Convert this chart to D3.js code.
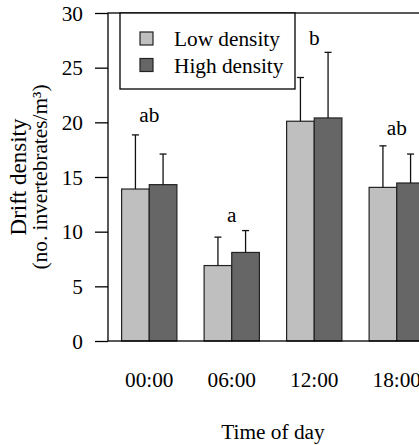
<!DOCTYPE html>
<html>
<head>
<meta charset="utf-8">
<script src="https://cdn.jsdelivr.net/npm/d3@7"></script>
<style>
html,body{margin:0;padding:0;background:#fff;}
svg{display:block;}
text{font-family:"Liberation Serif","Times New Roman",serif;fill:#000;}
</style>
</head>
<body>
<svg id="chart" width="419" height="445"></svg>
<script>
const times = ["00:00", "06:00", "12:00", "18:00"];
const seriesNames = ["Low density", "High density"];
const lowMean = [13.9, 6.9, 20.1, 14.05];
const highMean = [14.3, 8.1, 20.4, 14.45];
const lowErr = [4.95, 2.6, 4.0, 3.8];
const highErr = [2.8, 2.0, 6.0, 2.65];
const letters = ["ab", "a", "b", "ab"];
const letterY = [20.0, 10.9, 27.1, 18.85];
const yTicks = [0, 5, 10, 15, 20, 25, 30];
const colors = ["#bfbfbf", "#666666"];

(function () {
const svg = d3.select("#chart");
const pL = 108, pR = 438, pT = 13, pB = 341;
const fs = 21.3;

const x = d3.scaleBand().domain(times).range([pL, pR]).padding(0);
const groupW = x.bandwidth() * 0.67;
const xs = d3.scaleBand().domain(seriesNames).range([0, groupW]).padding(0);
const y = d3.scaleLinear().domain([0, 30]).range([pB, pT]);

const rows = [];
times.forEach((t, i) => {
  rows.push({t, s: seriesNames[0], v: lowMean[i], e: lowErr[i], c: colors[0]});
  rows.push({t, s: seriesNames[1], v: highMean[i], e: highErr[i], c: colors[1]});
});
const bx = d => x(d.t) + (x.bandwidth() - groupW) / 2 + xs(d.s);

// bars
svg.append("g").selectAll("rect").data(rows).join("rect")
  .attr("x", d => bx(d))
  .attr("y", d => y(d.v))
  .attr("width", xs.bandwidth())
  .attr("height", d => y(0) - y(d.v))
  .attr("fill", d => d.c)
  .attr("stroke", "#222")
  .attr("stroke-width", 1.2);

// error bars (upper only)
const eg = svg.append("g").attr("stroke", "#111").attr("stroke-width", 1.3);
rows.forEach(d => {
  const cx = bx(d) + xs.bandwidth() / 2;
  eg.append("line").attr("x1", cx).attr("x2", cx).attr("y1", y(d.v)).attr("y2", y(d.v + d.e));
  eg.append("line").attr("x1", cx - 3.5).attr("x2", cx + 3.5).attr("y1", y(d.v + d.e)).attr("y2", y(d.v + d.e));
});

// frame
svg.append("rect").attr("x", pL).attr("y", pT).attr("width", pR - pL).attr("height", pB - pT)
  .attr("fill", "none").attr("stroke", "#000").attr("stroke-width", 1.3);

// y axis
const yAxis = d3.axisLeft(y).tickValues(yTicks).tickSize(13).tickPadding(12).tickFormat(d3.format("d"));
const ya = svg.append("g").attr("transform", `translate(${pL},0)`).call(yAxis);
ya.select(".domain").remove();
ya.selectAll("line").attr("stroke", "#000").attr("stroke-width", 1.3);
ya.selectAll("text").attr("font-size", fs).attr("font-family", "Liberation Serif").attr("fill", "#000").attr("dy", "0.33em");

// x axis labels
const xAxis = d3.axisBottom(x).tickSize(0).tickPadding(0);
const xa = svg.append("g").attr("transform", `translate(0,${pB})`).call(xAxis);
xa.select(".domain").remove();
xa.selectAll("text").attr("font-size", fs).attr("font-family", "Liberation Serif").attr("fill", "#000")
  .attr("dy", null).attr("y", 46);

// letters
svg.append("g").selectAll("text").data(times).join("text")
  .attr("x", d => x(d) + x.bandwidth() / 2)
  .attr("y", (d, i) => y(letterY[i]))
  .attr("text-anchor", "middle")
  .attr("font-size", fs)
  .text((d, i) => letters[i]);

// axis titles
svg.append("text").attr("x", (pL + pR) / 2).attr("y", 439).attr("text-anchor", "middle")
  .attr("font-size", fs).text("Time of day");
const yt = svg.append("g").attr("transform", `translate(0,${(pT + pB) / 2}) rotate(-90)`);
yt.append("text").attr("x", 0).attr("y", 26).attr("text-anchor", "middle").attr("font-size", 23).text("Drift density");
yt.append("text").attr("x", 0).attr("y", 47).attr("text-anchor", "middle").attr("font-size", fs).text("(no. invertebrates/m³)");

// legend
const lg = svg.append("g");
lg.append("rect").attr("x", 120).attr("y", pT).attr("width", 175).attr("height", 76)
  .attr("fill", "#fff").attr("stroke", "#000").attr("stroke-width", 1.3);
seriesNames.forEach((s, i) => {
  const yy = 32 + i * 26.5;
  lg.append("rect").attr("x", 140).attr("y", yy).attr("width", 13).attr("height", 13)
    .attr("fill", colors[i]).attr("stroke", "#222").attr("stroke-width", 1.2);
  lg.append("text").attr("x", 174).attr("y", yy + 14).attr("font-size", fs).text(s);
});
})();
</script>
</body>
</html>
